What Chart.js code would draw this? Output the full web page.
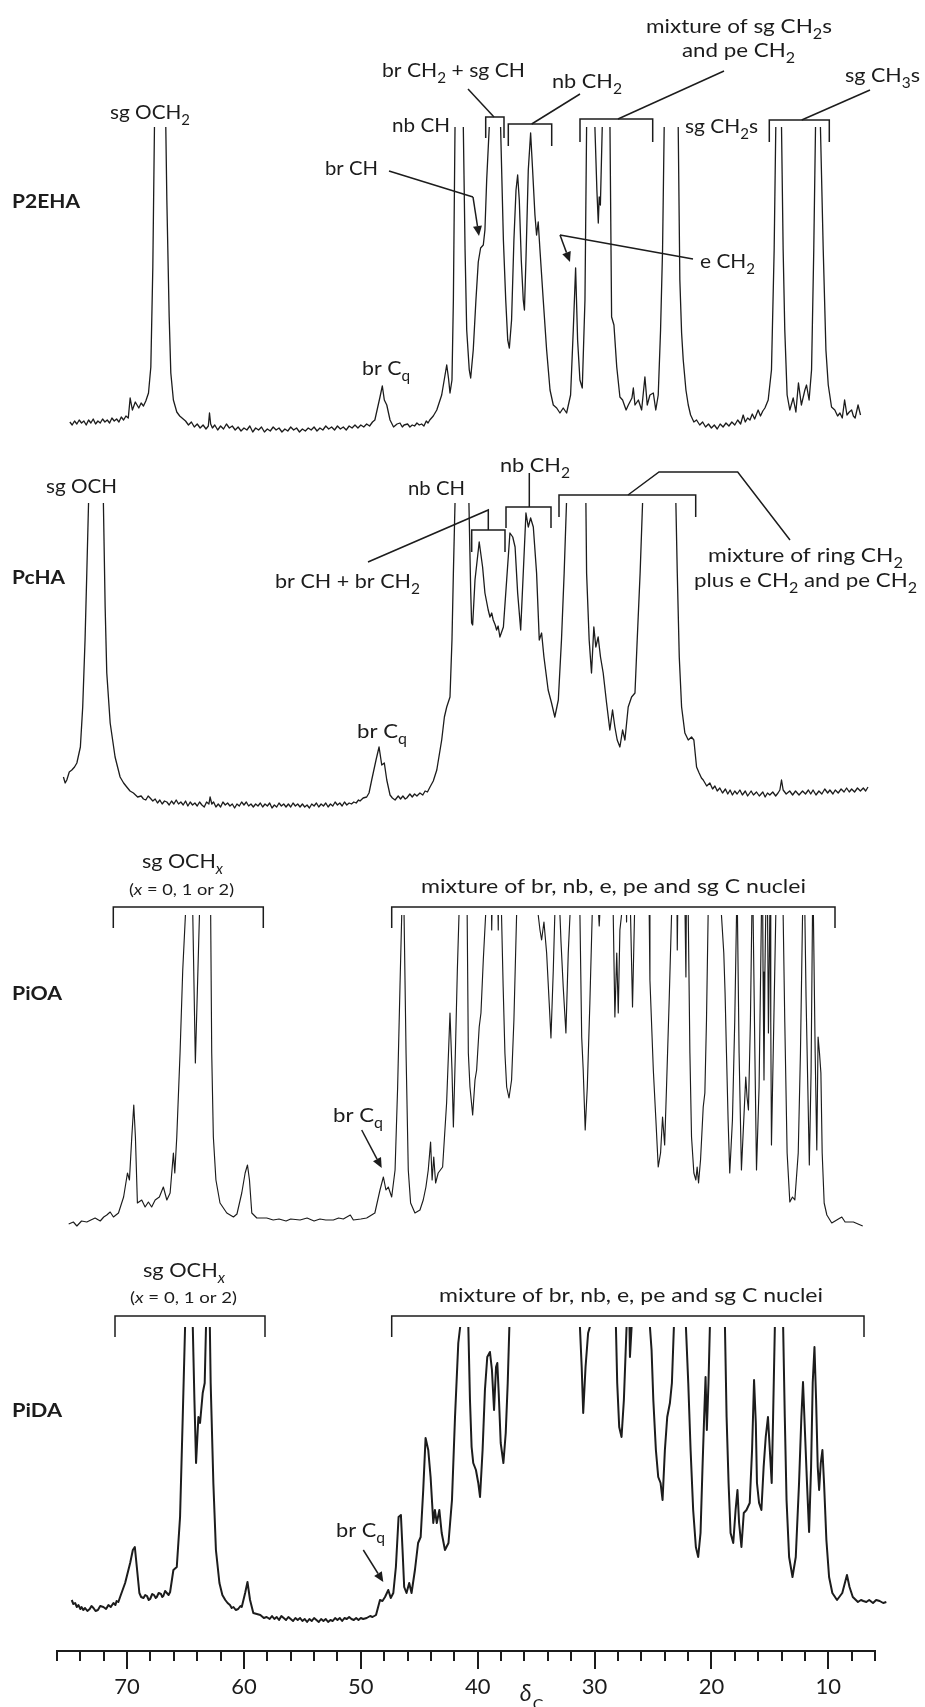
<!DOCTYPE html>
<html>
<head>
<meta charset="utf-8">
<script src="https://cdn.jsdelivr.net/npm/chart.js@4.4.1/dist/chart.umd.min.js"></script>
<style>
  html, body { margin: 0; padding: 0; background: #ffffff; }
  #wrap { position: relative; width: 925px; height: 1707px; overflow: hidden; }
  canvas { display: block; }
</style>
</head>
<body>
<div id="wrap"><canvas id="c" width="925" height="1707"></canvas></div>
<script>
// ---------------- DATA (ppm, relative intensity) ----------------
const tickValues = [70, 60, 50, 40, 30, 20, 10];
const sampleNames = ['P2EHA', 'PcHA', 'PiOA', 'PiDA'];

const P2EHA = [[74.9,8],[74.7,5],[74.5,9],[74.3,6],[74.1,10],[73.9,7],[73.7,9],[73.5,5],[73.3,10],[73.1,7],[72.9,11],[72.7,6],[72.5,9],[72.3,7],[72.1,11],[71.9,8],[71.7,10],[71.5,7],[71.3,12],[71.1,9],[70.9,11],[70.7,8],[70.5,13],[70.3,10],[70.1,14],[69.9,12],[69.74,32],[69.55,20],[69.3,28],[69.0,22],[68.8,27],[68.6,24],[68.4,29],[68.17,37],[67.97,63],[67.8,163],[67.66,303],[67.2,700],[66.69,303],[66.6,230],[66.4,113],[66.26,57],[66.04,30],[65.75,18],[65.5,14],[65.3,12],[65.0,9],[64.75,5],[64.5,8],[64.25,3],[64.0,6],[63.75,2],[63.5,5],[63.25,1],[63.05,4],[62.95,17],[62.85,6],[62.7,2],[62.5,5],[62.25,0],[62.0,4],[61.75,1],[61.5,6],[61.25,2],[61.0,4],[60.75,0],[60.5,3],[60.25,-1],[60.0,2],[59.75,0],[59.5,4],[59.25,-2],[59.0,2],[58.75,0],[58.5,3],[58.25,-2],[58.0,1],[57.75,-1],[57.5,3],[57.25,0],[57.0,2],[56.75,-2],[56.5,1],[56.25,-1],[56.0,3],[55.75,0],[55.5,2],[55.25,-2],[55.0,1],[54.75,-1],[54.5,2],[54.25,0],[54.0,3],[53.75,-1],[53.5,2],[53.25,0],[53.0,4],[52.75,1],[52.5,3],[52.25,0],[52.0,4],[51.75,1],[51.5,3],[51.25,0],[51.0,4],[50.75,2],[50.5,5],[50.25,2],[50.0,5],[49.75,3],[49.5,6],[49.25,4],[49.0,8],[48.8,10],[48.36,33],[48.16,44],[47.99,30],[47.78,25],[47.5,10],[47.2,3],[46.9,6],[46.65,7],[46.45,3],[46.3,5],[46.0,6],[45.8,3],[45.6,5],[45.4,4],[45.2,7],[45.0,5],[44.8,6],[44.6,4],[44.4,9],[44.25,7],[44.1,10],[43.8,14],[43.5,20],[43.08,35],[42.65,65],[42.5,52],[42.37,37],[42.2,50],[42.08,130],[41.94,303],[41.6,700],[41.23,303],[41.08,180],[40.94,100],[40.72,60],[40.6,52],[40.38,80],[40.15,130],[39.95,168],[39.75,182],[39.52,185],[39.38,200],[39.23,250],[39.01,303],[38.6,700],[38.04,303],[37.8,190],[37.6,130],[37.43,90],[37.29,82],[37.1,110],[36.9,190],[36.72,240],[36.58,255],[36.44,230],[36.27,170],[36.1,130],[36.0,120],[35.87,170],[35.67,260],[35.47,297],[35.3,260],[35.1,215],[34.96,195],[34.82,208],[34.67,180],[34.39,130],[34.1,80],[33.81,40],[33.53,25],[33.24,22],[32.96,17],[32.68,22],[32.39,17],[32.05,35],[31.82,100],[31.62,162],[31.45,90],[31.25,50],[31.05,42],[30.82,130],[30.68,303],[30.3,700],[29.97,303],[29.8,240],[29.68,207],[29.6,233],[29.5,225],[29.34,303],[29.0,700],[28.68,303],[28.54,113],[28.34,105],[28.1,63],[27.83,33],[27.6,30],[27.3,20],[27.11,25],[26.8,32],[26.68,42],[26.54,25],[26.25,30],[25.97,20],[25.69,53],[25.49,25],[25.26,35],[24.97,37],[24.76,20],[24.55,35],[24.35,100],[24.18,180],[24.04,303],[23.4,700],[22.84,303],[22.7,150],[22.55,97],[22.41,70],[22.18,40],[21.98,25],[21.78,15],[21.5,8],[21.27,10],[21.0,5],[20.75,8],[20.5,3],[20.25,6],[20.0,2],[19.75,5],[19.5,1],[19.25,6],[19.0,3],[18.75,7],[18.5,4],[18.25,8],[18.0,5],[17.75,10],[17.5,6],[17.28,15],[17.1,8],[16.9,12],[16.7,10],[16.5,16],[16.3,11],[16.0,20],[15.8,14],[15.6,19],[15.42,22],[15.14,30],[14.86,60],[14.63,180],[14.49,303],[14.25,700],[14.0,303],[13.86,180],[13.72,100],[13.52,35],[13.29,20],[13.0,32],[12.77,18],[12.55,47],[12.3,25],[12.0,40],[11.86,45],[11.64,30],[11.43,60],[11.24,180],[11.09,303],[10.88,700],[10.67,303],[10.43,180],[10.2,80],[10.0,45],[9.72,23],[9.44,20],[9.2,14],[9.0,17],[8.8,12],[8.6,30],[8.4,15],[8.2,18],[8.0,20],[7.85,14],[7.7,12],[7.45,25],[7.24,15]];

const PcHA = [[75.45,28],[75.3,22],[75.16,25],[74.95,33],[74.73,35],[74.5,38],[74.3,42],[74.0,58],[73.8,98],[73.6,165],[73.45,232],[73.3,302],[72.7,700],[72.03,302],[71.88,198],[71.74,132],[71.45,82],[71.03,48],[70.6,28],[70.3,22],[70.03,18],[69.75,14],[69.46,12],[69.1,8],[68.8,9],[68.6,6],[68.4,5],[68.2,9],[68.03,7],[67.8,4],[67.6,6],[67.4,2],[67.2,5],[67.0,1],[66.8,4],[66.6,3],[66.4,0],[66.2,4],[66.0,1],[65.8,5],[65.6,1],[65.4,3],[65.2,0],[65.0,4],[64.8,-1],[64.6,3],[64.4,0],[64.2,2],[64.0,-1],[63.8,3],[63.6,0],[63.4,-2],[63.2,3],[63.0,1],[62.9,8],[62.75,1],[62.6,3],[62.4,-2],[62.2,1],[62.0,-2],[61.8,3],[61.6,0],[61.4,2],[61.2,-1],[61.0,1],[60.8,-3],[60.6,1],[60.4,-1],[60.2,3],[60.0,0],[59.8,3],[59.6,-1],[59.4,1],[59.2,-2],[59.0,1],[58.8,-1],[58.6,2],[58.4,-2],[58.2,1],[58.0,-1],[57.8,2],[57.6,-3],[57.4,0],[57.2,-2],[57.0,2],[56.8,-1],[56.6,1],[56.4,-2],[56.2,1],[56.0,-2],[55.8,2],[55.6,-1],[55.4,1],[55.2,-2],[55.0,1],[54.8,-2],[54.6,0],[54.4,-3],[54.2,1],[54.0,-1],[53.8,2],[53.6,-2],[53.4,1],[53.2,-1],[53.0,2],[52.8,-2],[52.6,1],[52.4,-1],[52.2,3],[52.0,0],[51.8,2],[51.6,-1],[51.4,3],[51.2,0],[51.0,2],[50.8,1],[50.6,3],[50.4,2],[50.2,5],[50.07,4],[49.8,7],[49.5,8],[49.3,12],[49.07,25],[48.7,45],[48.44,58],[48.21,40],[47.99,42],[47.78,25],[47.5,10],[47.3,7],[47.07,5],[46.8,9],[46.6,6],[46.4,9],[46.2,6],[46.07,7],[45.8,11],[45.6,8],[45.4,11],[45.2,9],[44.94,12],[44.7,10],[44.5,14],[44.3,13],[44.08,18],[43.8,24],[43.5,35],[43.08,65],[42.85,88],[42.65,98],[42.37,108],[42.2,165],[42.08,232],[41.94,302],[41.4,700],[40.75,302],[40.6,215],[40.52,182],[40.43,180],[40.23,225],[39.87,263],[39.58,238],[39.38,212],[39.1,195],[38.95,188],[38.8,192],[38.67,185],[38.5,180],[38.38,175],[38.25,179],[38.1,168],[37.8,178],[37.52,225],[37.24,272],[37.0,268],[36.8,258],[36.58,212],[36.32,175],[36.1,232],[35.87,292],[35.67,278],[35.47,287],[35.24,278],[34.96,232],[34.73,165],[34.53,172],[34.33,148],[33.97,115],[33.68,102],[33.4,88],[33.1,105],[32.83,165],[32.6,232],[32.4,302],[31.6,700],[30.74,302],[30.68,232],[30.46,165],[30.26,132],[30.06,178],[29.89,158],[29.69,168],[29.49,148],[29.26,132],[28.97,102],[28.69,75],[28.46,95],[28.26,78],[28.06,65],[27.83,58],[27.6,75],[27.4,65],[27.12,98],[26.83,108],[26.54,112],[26.35,165],[26.1,232],[25.89,302],[25.3,700],[24.5,500],[23.7,700],[23.04,302],[22.92,232],[22.75,148],[22.55,98],[22.27,72],[21.98,65],[21.7,68],[21.5,65],[21.27,38],[21.05,32],[20.85,27],[20.7,25],[20.4,19],[20.13,22],[19.9,16],[19.7,19],[19.5,14],[19.28,17],[19.05,12],[18.8,16],[18.6,11],[18.4,15],[18.2,10],[18.0,14],[17.8,11],[17.56,15],[17.35,10],[17.1,14],[16.9,9],[16.6,14],[16.4,10],[16.14,13],[15.9,9],[15.6,13],[15.4,8],[15.2,12],[15.0,10],[14.75,13],[14.5,9],[14.3,12],[14.14,15],[14.0,25],[13.86,15],[13.6,11],[13.3,14],[13.05,10],[12.8,14],[12.5,10],[12.2,14],[11.95,11],[11.7,15],[11.5,11],[11.3,15],[11.05,10],[10.8,14],[10.55,11],[10.3,16],[10.05,12],[9.86,15],[9.6,11],[9.4,15],[9.15,12],[8.9,16],[8.65,13],[8.43,17],[8.2,13],[8.0,16],[7.75,13],[7.5,17],[7.25,14],[7.0,17],[6.8,14],[6.6,18]];

const PiOA = [[75.0,-2],[74.6,0],[74.3,-4],[73.9,1],[73.45,0],[73.1,2],[72.74,4],[72.3,1],[72.0,5],[71.74,7],[71.45,10],[71.17,5],[70.74,9],[70.3,25],[69.97,49],[69.8,42],[69.6,85],[69.43,117],[69.29,85],[69.12,19],[68.75,22],[68.46,15],[68.18,20],[67.9,15],[67.6,22],[67.24,25],[66.9,35],[66.6,22],[66.32,29],[66.04,69],[65.92,49],[65.75,85],[65.47,169],[65.24,252],[65.01,307],[64.7,700],[64.38,307],[64.16,159],[63.81,307],[63.4,700],[62.85,307],[62.76,169],[62.62,85],[62.4,42],[62.05,19],[61.47,9],[60.9,5],[60.6,8],[60.19,29],[59.9,49],[59.7,57],[59.53,42],[59.33,9],[58.9,4],[58.05,4],[57.5,2],[57.0,3],[56.4,1],[56.0,3],[55.2,2],[54.6,4],[54.0,1],[53.5,3],[53.0,2],[52.35,2],[51.9,4],[51.5,3],[50.9,7],[50.64,2],[50.0,3],[49.5,4],[48.8,9],[48.36,32],[48.07,45],[47.85,32],[47.65,35],[47.36,25],[47.07,52],[46.85,135],[46.65,235],[46.5,307],[46.4,700],[46.3,307],[46.13,169],[45.94,52],[45.74,19],[45.37,9],[44.94,12],[44.66,22],[44.43,35],[44.23,52],[44.03,80],[43.9,42],[43.76,65],[43.6,39],[43.38,49],[43.0,55],[42.66,119],[42.37,209],[42.2,152],[42.08,95],[41.91,169],[41.74,252],[41.6,307],[41.25,700],[40.9,307],[40.8,169],[40.66,135],[40.43,107],[40.23,142],[40.09,152],[39.87,195],[39.72,209],[39.52,262],[39.32,307],[39.0,500],[38.8,292],[38.5,500],[38.24,292],[38.1,500],[37.96,307],[37.82,235],[37.67,169],[37.52,135],[37.32,124],[37.1,142],[36.9,202],[36.67,307],[36.2,700],[35.5,700],[34.82,307],[34.67,292],[34.53,282],[34.33,300],[34.1,269],[33.88,219],[33.73,184],[33.53,252],[33.4,307],[33.2,500],[32.96,307],[32.87,280],[32.68,235],[32.45,189],[32.25,269],[32.1,307],[31.7,700],[31.25,307],[31.1,185],[30.97,152],[30.8,92],[30.62,135],[30.4,219],[30.2,307],[30.0,600],[29.7,320],[29.6,296],[29.5,320],[29.0,600],[28.4,307],[28.26,205],[28.1,269],[27.97,209],[27.83,292],[27.69,307],[27.45,500],[27.26,300],[27.1,500],[26.92,307],[26.75,215],[26.58,307],[26.0,700],[25.32,307],[25.26,242],[24.97,152],[24.75,102],[24.55,55],[24.35,69],[24.18,105],[24.0,77],[23.84,135],[23.62,219],[23.41,307],[23.1,600],[22.92,272],[22.6,600],[22.18,245],[22.05,500],[21.98,307],[21.84,169],[21.7,85],[21.5,49],[21.33,42],[21.22,55],[21.1,39],[20.93,62],[20.7,115],[20.56,129],[20.42,202],[20.28,307],[19.9,700],[19.5,500],[19.14,307],[18.94,269],[18.83,229],[18.71,169],[18.57,102],[18.43,49],[18.2,102],[18.0,202],[17.85,307],[17.8,400],[17.77,307],[17.63,169],[17.43,52],[17.23,102],[17.06,145],[16.95,125],[16.83,112],[16.66,202],[16.54,307],[16.48,400],[16.43,307],[16.28,169],[16.14,52],[15.92,135],[15.72,307],[15.65,400],[15.58,250],[15.5,142],[15.42,250],[15.35,307],[15.25,400],[15.12,189],[15.0,307],[14.97,350],[14.92,200],[14.86,77],[14.66,200],[14.49,307],[14.2,700],[13.86,307],[13.72,200],[13.52,69],[13.29,20],[13.06,25],[12.86,22],[12.57,69],[12.38,169],[12.2,307],[12.1,400],[12.0,307],[11.9,225],[11.75,135],[11.62,57],[11.47,150],[11.35,307],[11.31,400],[11.27,307],[11.12,169],[10.98,72],[10.87,185],[10.75,169],[10.63,149],[10.52,69],[10.35,19],[10.12,7],[9.7,-1],[9.13,3],[8.84,5],[8.56,0],[7.85,0],[7.05,-4]];

const PiDA = [[74.74,17],[74.6,13],[74.45,14],[74.3,10],[74.17,12],[74.0,8],[73.9,10],[73.75,7],[73.6,9],[73.4,6],[73.2,8],[73.05,11],[72.88,9],[72.7,6],[72.5,7],[72.3,11],[72.03,10],[71.8,8],[71.6,12],[71.4,10],[71.17,14],[71.0,12],[70.9,16],[70.75,15],[70.6,20],[70.17,34],[69.74,54],[69.51,67],[69.34,70],[69.17,50],[68.95,24],[68.8,20],[68.6,19],[68.45,22],[68.3,21],[68.15,17],[68.03,18],[67.85,23],[67.7,22],[67.55,19],[67.46,20],[67.3,24],[67.1,23],[67.0,20],[66.9,21],[66.75,26],[66.6,24],[66.45,22],[66.32,25],[66.04,47],[65.75,50],[65.47,100],[65.24,200],[65.04,290],[64.7,700],[64.38,290],[64.24,217],[64.1,154],[63.9,200],[63.76,194],[63.53,224],[63.36,234],[63.25,290],[63.08,500],[62.92,290],[62.85,234],[62.62,134],[62.4,67],[62.1,34],[61.85,22],[61.6,17],[61.4,14],[61.2,12],[61.05,9],[60.9,10],[60.7,7],[60.5,8],[60.3,11],[60.19,10],[59.9,24],[59.7,35],[59.48,17],[59.2,4],[58.9,3],[58.6,2],[58.3,-1],[58.06,0],[57.8,-2],[57.6,1],[57.4,-2],[57.2,0],[57.0,-3],[56.8,1],[56.6,-1],[56.4,-3],[56.2,0],[56.0,-2],[55.8,-4],[55.6,-1],[55.4,-3],[55.2,-1],[55.0,-4],[54.8,-2],[54.6,-5],[54.4,-2],[54.2,-4],[54.0,-1],[53.8,-3],[53.6,-5],[53.4,-2],[53.2,-4],[53.0,-2],[52.8,-5],[52.6,-3],[52.4,-4],[52.2,-1],[52.0,-3],[51.8,-1],[51.6,-4],[51.4,-1],[51.2,-2],[51.0,0],[50.8,-2],[50.6,-3],[50.4,-1],[50.2,-3],[50.0,-1],[49.8,-2],[49.5,-1],[49.2,1],[49.0,0],[48.7,2],[48.36,17],[48.15,16],[47.93,20],[47.65,27],[47.44,19],[47.22,24],[47.0,50],[46.77,100],[46.57,102],[46.43,67],[46.29,30],[46.09,24],[45.86,34],[45.66,24],[45.37,47],[45.1,74],[44.88,80],[44.66,127],[44.46,179],[44.23,167],[44.03,140],[43.8,94],[43.66,107],[43.5,94],[43.28,107],[43.08,84],[42.8,67],[42.5,74],[42.2,117],[41.94,200],[41.66,274],[41.5,290],[41.15,700],[40.8,290],[40.66,217],[40.52,170],[40.38,154],[40.15,147],[39.95,134],[39.8,120],[39.58,167],[39.38,227],[39.18,260],[38.95,265],[38.78,247],[38.6,207],[38.43,250],[38.32,254],[38.2,224],[38.03,174],[37.8,154],[37.6,184],[37.43,234],[37.29,290],[36.5,700],[35.0,700],[33.5,700],[32.0,700],[31.25,290],[31.1,250],[30.97,204],[30.77,250],[30.55,284],[30.4,290],[29.8,700],[29.0,700],[28.17,290],[28.06,234],[27.89,190],[27.69,180],[27.49,217],[27.26,290],[27.15,400],[26.97,260],[26.83,290],[26.5,700],[25.8,700],[25.26,290],[25.12,267],[24.97,217],[24.75,167],[24.55,140],[24.35,134],[24.18,117],[23.98,167],[23.78,200],[23.55,214],[23.38,234],[23.21,290],[22.7,700],[22.18,290],[21.98,234],[21.78,167],[21.56,107],[21.33,70],[21.13,60],[20.93,84],[20.76,150],[20.62,200],[20.5,240],[20.39,187],[20.25,234],[20.13,290],[19.5,700],[18.84,290],[18.7,200],[18.53,134],[18.36,84],[18.13,74],[17.93,107],[17.77,127],[17.63,94],[17.43,70],[17.23,104],[17.0,107],[16.72,114],[16.52,167],[16.35,237],[16.2,194],[16.1,134],[15.92,114],[15.72,107],[15.53,150],[15.35,180],[15.16,200],[15.0,167],[14.84,134],[14.72,200],[14.57,290],[14.2,700],[13.86,290],[13.72,200],[13.57,117],[13.35,60],[13.06,40],[12.78,60],[12.5,134],[12.3,200],[12.16,235],[11.99,184],[11.82,134],[11.64,85],[11.47,150],[11.33,234],[11.18,270],[11.04,217],[10.9,150],[10.78,127],[10.64,154],[10.5,167],[10.36,134],[10.16,77],[9.93,40],[9.65,24],[9.25,17],[8.8,24],[8.4,42],[8.18,30],[7.9,20],[7.46,15],[7.2,17],[7.0,16],[6.74,15],[6.5,17],[6.17,14],[5.9,17],[5.6,16],[5.3,14],[5.03,15]];

// ---------------- LAYOUT (pixels) ----------------
const AREA_BOTTOM = 1651;                // axis line
const baselines = [430, 805, 1222, 1617]; // pixel row of intensity 0 for each trace
const clipTops = [127, 503, 915, 1327];   // truncation line of each trace
const lineWidths = [1.3, 1.3, 1.15, 2.0];
const FONT = 'Lato, "Open Sans", sans-serif';
const INK = '#1c1c1c';

// text labels: x (left), y (baseline), w (target width), parts [text, style]
const labels = [
  {x:12, y:208, w:68, size:19, bold:true, parts:[['P2EHA']]},
  {x:110, y:119, w:80, parts:[['sg OCH'],['2','s']]},
  {x:392, y:132, w:58, parts:[['nb CH']]},
  {x:325, y:175, w:53, parts:[['br CH']]},
  {x:382, y:77, w:143, parts:[['br CH'],['2','s'],[' + sg CH']]},
  {x:552, y:88, w:70, parts:[['nb CH'],['2','s']]},
  {x:646, y:33, w:186, parts:[['mixture of sg CH'],['2','s'],['s']]},
  {x:682, y:57, w:113, parts:[['and pe CH'],['2','s']]},
  {x:685, y:133, w:73, parts:[['sg CH'],['2','s'],['s']]},
  {x:845, y:82, w:75, parts:[['sg CH'],['3','s'],['s']]},
  {x:700, y:268, w:55, parts:[['e CH'],['2','s']]},
  {x:362, y:375, w:48, parts:[['br C'],['q','s']]},

  {x:12, y:584, w:53, size:19, bold:true, parts:[['PcHA']]},
  {x:46, y:493, w:71, parts:[['sg OCH']]},
  {x:408, y:495, w:57, parts:[['nb CH']]},
  {x:275, y:588, w:145, parts:[['br CH + br CH'],['2','s']]},
  {x:500, y:472, w:70, parts:[['nb CH'],['2','s']]},
  {x:708, y:562, w:195, parts:[['mixture of ring CH'],['2','s']]},
  {x:694, y:587, w:223, parts:[['plus e CH'],['2','s'],[' and pe CH'],['2','s']]},
  {x:357, y:738, w:50, parts:[['br C'],['q','s']]},

  {x:12, y:1000, w:50, size:19, bold:true, parts:[['PiOA']]},
  {x:142, y:868, w:81, parts:[['sg OCH'],['x','si']]},
  {x:129, y:895, w:105, size:15.5, parts:[['('],['x','i'],[' = 0, 1 or 2)']]},
  {x:421, y:893, w:385, parts:[['mixture of br, nb, e, pe and sg C nuclei']]},
  {x:333, y:1122, w:50, parts:[['br C'],['q','s']]},

  {x:12, y:1417, w:50, size:19, bold:true, parts:[['PiDA']]},
  {x:143, y:1277, w:82, parts:[['sg OCH'],['x','si']]},
  {x:130, y:1303, w:107, size:15.5, parts:[['('],['x','i'],[' = 0, 1 or 2)']]},
  {x:439, y:1302, w:384, parts:[['mixture of br, nb, e, pe and sg C nuclei']]},
  {x:336, y:1537, w:49, parts:[['br C'],['q','s']]}
];

// leader lines / brackets (polylines) and arrows
const polylines = [
  [[389,171],[473,197]],
  [[468,89],[494,117]], [[485.7,138],[485.7,117],[504,117],[504,138]],
  [[580,94],[531.7,124]], [[508.3,146],[508.3,124],[551.7,124],[551.7,146]],
  [[724,71],[618,119]], [[580,142],[580,119],[652.7,119],[652.7,142]],
  [[870,90],[801.7,120]], [[769.3,142],[769.3,120],[829.3,120],[829.3,142]],
  [[693,259],[560,235]],

  [[368,562],[488.3,510],[488.3,530]], [[471.7,552],[471.7,530],[505,530],[505,552]],
  [[529.3,473],[529.3,507]], [[506,528],[506,507],[551,507],[551,528]],
  [[559,517],[559,495],[695.7,495],[695.7,517]], [[628,495],[659,472],[737.7,472],[790,540]],

  [[113.3,928],[113.3,907],[263.3,907],[263.3,928]],
  [[391.7,928],[391.7,907],[835,907],[835,928]],
  [[115,1337],[115,1316],[265,1316],[265,1337]],
  [[391.7,1337],[391.7,1316],[864,1316],[864,1337]]
];
const arrows = [
  [[473,197],[479,236]],
  [[560,235],[570,262]],
  [[361.7,1130],[381.7,1168]],
  [[363.3,1550],[383.3,1582]]
];

// ---------------- DRAWING ----------------
function drawRich(ctx, L) {
  const size = L.size || 20;
  let total = 0;
  const segs = L.parts.map(p => {
    const t = p[0], st = p[1] || '';
    const sub = st.includes('s'), it = st.includes('i');
    const fs = sub ? size * 0.72 : size;
    const font = (it ? 'italic ' : '') + (L.bold ? 'bold ' : '') + fs + 'px ' + FONT;
    ctx.font = font;
    const wd = ctx.measureText(t).width;
    total += wd;
    return {t, font, wd, dy: sub ? size * 0.3 : 0};
  });
  let sx = L.w ? L.w / total : 1;
  sx = Math.max(0.8, Math.min(1.25, sx));
  ctx.save();
  ctx.translate(L.x, L.y);
  ctx.scale(sx, 1);
  ctx.fillStyle = INK;
  ctx.textBaseline = 'alphabetic';
  ctx.textAlign = 'left';
  let cx = 0;
  for (const s of segs) { ctx.font = s.font; ctx.fillText(s.t, cx, s.dy); cx += s.wd; }
  ctx.restore();
}

const annotate = {
  id: 'annotate',
  afterDraw(chart) {
    const ctx = chart.ctx;
    const xs = chart.scales.x;
    ctx.save();
    // longer major ticks
    ctx.strokeStyle = INK; ctx.lineWidth = 2;
    for (const v of tickValues) {
      const px = Math.round(xs.getPixelForValue(v));
      ctx.beginPath(); ctx.moveTo(px, AREA_BOTTOM); ctx.lineTo(px, AREA_BOTTOM + 18); ctx.stroke();
    }
    // δC axis label
    ctx.fillStyle = INK;
    ctx.font = 'italic 23px ' + FONT;
    const dx = xs.getPixelForValue(36.4);
    ctx.fillText('δ', dx, 1701);
    ctx.font = '16px ' + FONT;
    ctx.fillText('C', dx + 13, 1710);
    // leader lines & brackets
    ctx.lineWidth = 1.5; ctx.lineJoin = 'miter';
    for (const pl of polylines) {
      ctx.beginPath(); ctx.moveTo(pl[0][0], pl[0][1]);
      for (let i = 1; i < pl.length; i++) ctx.lineTo(pl[i][0], pl[i][1]);
      ctx.stroke();
    }
    for (const a of arrows) {
      const [x1, y1] = a[0], [x2, y2] = a[1];
      const ang = Math.atan2(y2 - y1, x2 - x1);
      const L = 10, W = 4.5;
      const bx = x2 - L * Math.cos(ang), by = y2 - L * Math.sin(ang);
      ctx.beginPath(); ctx.moveTo(x1, y1); ctx.lineTo(bx, by); ctx.stroke();
      ctx.beginPath();
      ctx.moveTo(x2, y2);
      ctx.lineTo(bx + W * Math.sin(ang), by - W * Math.cos(ang));
      ctx.lineTo(bx - W * Math.sin(ang), by + W * Math.cos(ang));
      ctx.closePath(); ctx.fill();
    }
    for (const L of labels) drawRich(ctx, L);
    ctx.restore();
  }
};

const spectra = [P2EHA, PcHA, PiOA, PiDA];
const yScales = {};
const datasets = spectra.map((d, i) => {
  const id = 'y' + (i + 1);
  yScales[id] = { type: 'linear', display: false, min: baselines[i] - AREA_BOTTOM, max: baselines[i] };
  return {
    label: sampleNames[i], data: d, yAxisID: id, xAxisID: 'x',
    borderColor: INK, borderWidth: lineWidths[i], borderJoinStyle: 'round',
    pointRadius: 0, tension: 0, fill: false,
    clip: { left: 30, right: 30, top: -clipTops[i], bottom: 0 }
  };
});

function build() {
  new Chart(document.getElementById('c'), {
    type: 'line',
    data: { datasets },
    options: {
      responsive: false, animation: false, devicePixelRatio: 1,
      layout: { padding: { left: 57, right: 50, top: 0, bottom: 0 } },
      plugins: { legend: { display: false }, tooltip: { enabled: false } },
      scales: Object.assign({
        x: {
          type: 'linear', reverse: true, min: 6, max: 76,
          afterFit: (s) => { s.height = 1707 - AREA_BOTTOM; },
          ticks: {
            stepSize: 2, autoSkip: false, maxRotation: 0, padding: 13,
            color: INK, font: { family: FONT, size: 22 },
            callback: (v) => (tickValues.includes(Math.round(v)) ? String(Math.round(v)) : '')
          },
          grid: { drawOnChartArea: false, drawTicks: true, tickLength: 10, color: INK, lineWidth: 2 },
          border: { display: true, color: INK, width: 2 }
        }
      }, yScales)
    },
    plugins: [annotate]
  });
}
if (document.fonts && document.fonts.load) {
  Promise.all([document.fonts.load('20px Lato'), document.fonts.load('bold 20px Lato'), document.fonts.load('italic 20px Lato')]).then(build, build);
} else build();
</script>
</body>
</html>
